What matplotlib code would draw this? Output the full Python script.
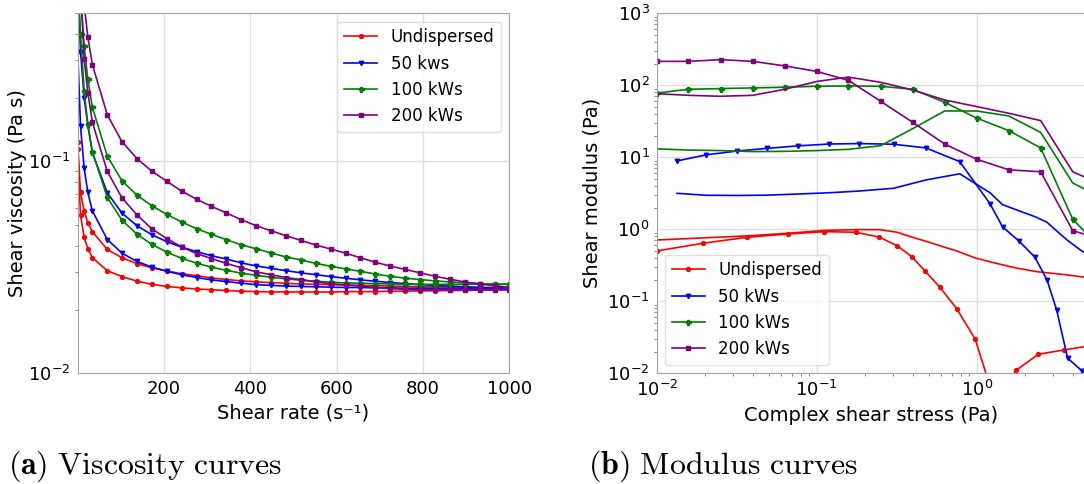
import matplotlib
matplotlib.use("Agg")
import matplotlib.pyplot as plt

# ---- viscosity curves (two sweeps per sample) ----
shear_rate = [0.5, 7, 15.5, 24, 34.5, 69, 103, 138, 172, 207, 241, 276, 310, 345, 379,
              414, 448, 483, 517, 552, 586, 621, 655, 690, 724, 759, 793, 828, 862, 897,
              931, 966, 1000]

visc_undisp_a = [0.124, 0.0714, 0.0583, 0.0512, 0.0466, 0.0384, 0.0351, 0.0329, 0.0315, 0.0304,
                 0.0295, 0.0289, 0.0282, 0.0277, 0.0273, 0.0270, 0.0268, 0.0266, 0.0264, 0.0263,
                 0.0262, 0.0261, 0.0260, 0.0259, 0.0258, 0.0257, 0.0256, 0.0256, 0.0255, 0.0255,
                 0.0254, 0.0254, 0.0254]
visc_undisp_b = [0.114, 0.0558, 0.0438, 0.0387, 0.0351, 0.0305, 0.0286, 0.0272, 0.0263, 0.0257,
                 0.0253, 0.0250, 0.0248, 0.0246, 0.0244, 0.0243, 0.0242, 0.0242, 0.0242, 0.0242,
                 0.0242, 0.0243, 0.0243, 0.0243, 0.0244, 0.0244, 0.0245, 0.0245, 0.0246, 0.0246,
                 0.0247, 0.0247, 0.0248]
visc_50_a = [0.8, 0.33, 0.2, 0.147, 0.11, 0.0711, 0.057, 0.0497, 0.0451, 0.0418,
             0.0394, 0.0375, 0.0359, 0.0346, 0.0332, 0.0321, 0.0313, 0.0305, 0.0298, 0.0292,
             0.0286, 0.0281, 0.0276, 0.0272, 0.0268, 0.0265, 0.0262, 0.0260, 0.0258, 0.0256,
             0.0254, 0.0253, 0.0252]
visc_50_b = [0.33, 0.147, 0.0927, 0.0714, 0.0584, 0.0428, 0.0369, 0.0337, 0.0317, 0.0303,
             0.0292, 0.0283, 0.0276, 0.0271, 0.0266, 0.0262, 0.0260, 0.0258, 0.0257, 0.0256,
             0.0255, 0.0254, 0.0254, 0.0253, 0.0253, 0.0252, 0.0252, 0.0252, 0.0251, 0.0251,
             0.0251, 0.0251, 0.0251]
visc_100_a = [1.0, 0.6, 0.35, 0.244, 0.18, 0.106, 0.081, 0.0692, 0.0618, 0.0562,
              0.0518, 0.0481, 0.0453, 0.0427, 0.0404, 0.0387, 0.0370, 0.0354, 0.0343, 0.0330,
              0.0320, 0.0311, 0.0303, 0.0294, 0.0287, 0.0281, 0.0277, 0.0273, 0.0270, 0.0267,
              0.0265, 0.0264, 0.0263]
visc_100_b = [0.7, 0.40, 0.215, 0.15, 0.111, 0.0676, 0.0528, 0.0453, 0.0406, 0.0373,
              0.0349, 0.0331, 0.0317, 0.0306, 0.0297, 0.0290, 0.0284, 0.0279, 0.0275, 0.0272,
              0.0269, 0.0267, 0.0266, 0.0265, 0.0264, 0.0263, 0.0263, 0.0263, 0.0263, 0.0263,
              0.0263, 0.0263, 0.0263]
visc_200_a = [3.0, 1.2, 0.55, 0.386, 0.286, 0.166, 0.124, 0.103, 0.090, 0.0805,
              0.0725, 0.0662, 0.0614, 0.0571, 0.0531, 0.0497, 0.0471, 0.0446, 0.0424, 0.0403,
              0.0386, 0.0369, 0.0351, 0.0334, 0.0321, 0.0309, 0.0298, 0.0287, 0.0278, 0.0270,
              0.0264, 0.0259, 0.0254]
visc_200_b = [2.0, 0.7, 0.303, 0.211, 0.153, 0.0897, 0.0673, 0.0558, 0.0481, 0.0432,
              0.0395, 0.0367, 0.0348, 0.0330, 0.0315, 0.0301, 0.0292, 0.0283, 0.0277, 0.0270,
              0.0265, 0.0261, 0.0258, 0.0254, 0.0251, 0.0249, 0.0248, 0.0248, 0.0248, 0.0248,
              0.0248, 0.0248, 0.0248]

# ---- modulus curves (G' with markers, G'' plain line) ----
stress_red = [0.01, 0.0195, 0.0365, 0.0659, 0.1115, 0.175, 0.246, 0.318, 0.393, 0.473,
              0.59, 0.75, 0.977, 1.3, 1.76, 2.43, 3.52, 5.0]
g1_red = [0.5, 0.64, 0.774, 0.861, 0.927, 0.91, 0.78, 0.59, 0.416, 0.266,
          0.156, 0.0788, 0.030, 0.004, 0.011, 0.0184, 0.0211, 0.024]
g2_red = [0.71, 0.76, 0.81, 0.88, 0.965, 0.99, 0.99, 0.91, 0.78, 0.69,
          0.59, 0.50, 0.40, 0.34, 0.29, 0.256, 0.235, 0.213]

stress_blue = [0.0134, 0.0203, 0.0316, 0.0487, 0.076, 0.12, 0.1845, 0.302, 0.481, 0.783,
               1.21, 1.45, 1.845, 2.31, 2.75, 3.16, 3.7, 4.53, 5.5]
g1_blue = [8.9, 10.8, 12.2, 13.3, 14.4, 15.3, 15.5, 15.2, 13.5, 8.7,
           2.27, 1.08, 0.68, 0.41, 0.198, 0.0757, 0.0162, 0.0109, 0.014]
g2_blue = [3.16, 2.97, 2.95, 2.98, 3.09, 3.22, 3.4, 3.71, 4.84, 5.9,
           3.22, 2.2, 1.8, 1.5, 1.25, 0.95, 0.7, 0.5, 0.4]

stress_grid = [0.01, 0.0158, 0.0251, 0.0398, 0.0631, 0.1, 0.158, 0.251, 0.398, 0.631,
               1.0, 1.585, 2.51, 3.98, 6.31]
g1_green = [78, 88, 90, 92, 94, 97, 98, 97, 88, 58, 35, 23.5, 13.5, 1.38, 0.48]
g2_green = [13.1, 12.6, 12.4, 12.0, 12.1, 12.4, 12.9, 14.5, 25, 44, 44, 37.5, 22.2, 4.4, 2.6]
g1_purple = [215, 215, 227, 215, 186, 156, 117, 60, 30.6, 15.3, 9.4, 6.7, 6.3, 0.96, 0.7]
g2_purple = [76.5, 72.6, 70.4, 72.6, 88, 113, 130, 110, 86, 62.5, 50.6, 40.9, 32.3, 6.3, 4.0]

W, H = 1084, 484
fig = plt.figure(figsize=(W / 100, H / 100), dpi=100)

ax1 = fig.add_axes([77.7 / W, 1 - 373.3 / H, 431.6 / W, 360 / H])
ax2 = fig.add_axes([656.7 / W, 1 - 373.3 / H, 428.3 / W, 360 / H])

lw = 1.2
# left panel
for ya, yb, c, m, ms, lab in [
    (visc_undisp_a, visc_undisp_b, 'red', 'o', 2.8, 'Undispersed'),
    (visc_50_a, visc_50_b, 'blue', 'v', 3.2, '50 kws'),
    (visc_100_a, visc_100_b, 'green', 'P', 3.6, '100 kWs'),
    (visc_200_a, visc_200_b, 'purple', 's', 3.2, '200 kWs'),
]:
    ax1.plot(shear_rate, ya, color=c, marker=m, ms=ms, lw=lw, label=lab)
    ax1.plot(shear_rate, yb, color=c, marker=m, ms=ms, lw=lw)

ax1.set_yscale('log')
ax1.set_xlim(0.5, 1000)
ax1.set_ylim(0.01, 0.5)
ax1.set_xticks([200, 400, 600, 800, 1000])
ax1.set_xlabel('Shear rate (s⁻¹)', fontsize=14)
ax1.set_ylabel('Shear viscosity (Pa s)', fontsize=14, labelpad=1)
ax1.legend(loc='upper right', fontsize=12, edgecolor='0.85')

# right panel
ax2.plot(stress_red, g1_red, color='red', marker='o', ms=2.8, lw=lw, label='Undispersed')
ax2.plot(stress_red, g2_red, color='red', lw=lw)
ax2.plot(stress_blue, g1_blue, color='blue', marker='v', ms=3.2, lw=lw, label='50 kWs')
ax2.plot(stress_blue, g2_blue, color='blue', lw=lw)
ax2.plot(stress_grid, g1_green, color='green', marker='P', ms=3.6, lw=lw, label='100 kWs')
ax2.plot(stress_grid, g2_green, color='green', lw=lw)
ax2.plot(stress_grid, g1_purple, color='purple', marker='s', ms=3.2, lw=lw, label='200 kWs')
ax2.plot(stress_grid, g2_purple, color='purple', lw=lw)

ax2.set_xscale('log')
ax2.set_yscale('log')
ax2.set_xlim(0.01, 4.75)
ax2.set_ylim(0.01, 1000)
ax2.set_xlabel('Complex shear stress (Pa)', fontsize=14)
ax2.set_ylabel('Shear modulus (Pa)', fontsize=14)
ax2.legend(loc='lower left', fontsize=12, edgecolor='0.85')

for ax in (ax1, ax2):
    ax.grid(True, which='major', color='0.87', lw=1)
    ax.set_axisbelow(True)
    for s in ax.spines.values():
        s.set_color('0.65')
    ax.tick_params(which='major', length=0, labelsize=13, pad=5)
    ax.tick_params(which='minor', length=2, width=0.6, color='0.45')

fig.text(8 / W, 1 - 466 / H, r'$\mathbf{(a)}\ \mathrm{Viscosity\ curves}$',
         fontsize=23, math_fontfamily='cm', va='center')
fig.text(588 / W, 1 - 466 / H, r'$\mathbf{(b)}\ \mathrm{Modulus\ curves}$',
         fontsize=23, math_fontfamily='cm', va='center')

fig.savefig('out.png', dpi=100)
